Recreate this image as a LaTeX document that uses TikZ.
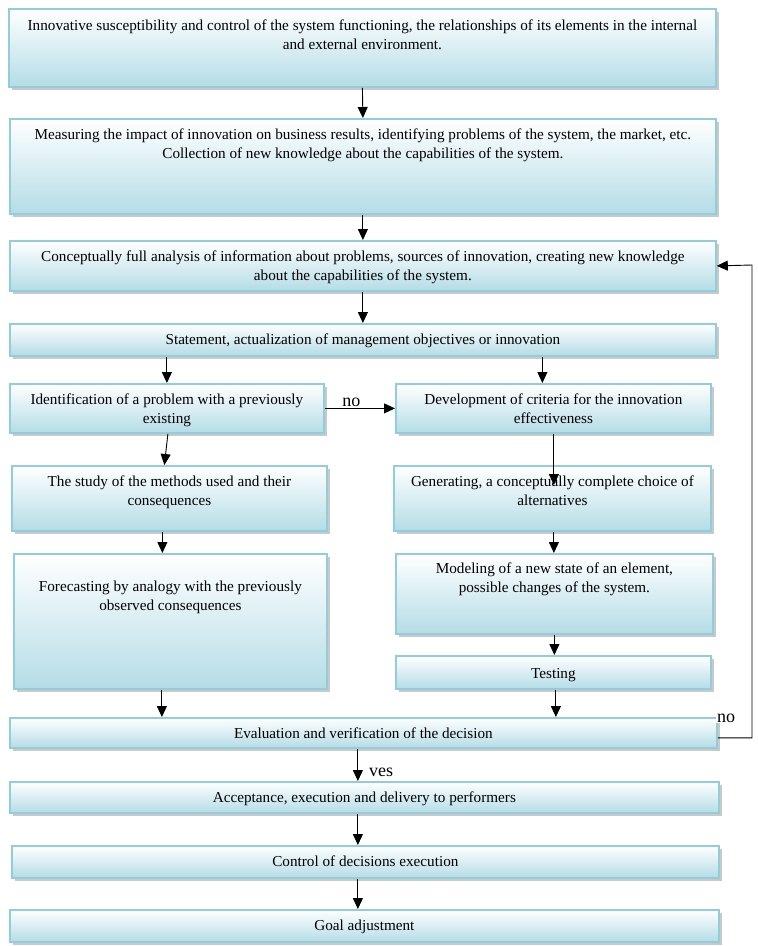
\documentclass[tikz,border=0pt]{standalone}
\usepackage{fontspec}
\setmainfont{Liberation Serif}
\usetikzlibrary{arrows.meta,shadows,calc}
\definecolor{fillc}{RGB}{180,220,230}
\definecolor{bordc}{RGB}{146,205,220}
\tikzset{
  box/.style={draw=bordc, line width=1.8pt, top color=white, bottom color=fillc,
    font=\fontsize{15.2}{19}\selectfont,
    drop shadow={shadow xshift=3.5pt, shadow yshift=-3.5pt, opacity=0.3, fill=black!70}},
  arr/.style={-{Triangle[length=11pt,width=10pt]}, line width=0.9pt, black},
  lbl/.style={font=\fontsize{18}{20}\selectfont, inner sep=1pt}
}
% name, x1, y1, x2, y2, first-line centre y, text
\newcommand\bx[7]{\node[box, anchor=north west, inner sep=0pt] (#1) at (#2pt,-#3pt)
  {\parbox[b][\dimexpr #5pt-#3pt\relax][t]{\dimexpr #4pt-#2pt\relax}{\centering
   \vspace*{\dimexpr #6pt+5pt-#3pt-\ht\strutbox\relax}\strut #7\par}};}
\begin{document}
\begin{tikzpicture}
\useasboundingbox (0,0) rectangle (758pt,-946pt);
\bx{b1}{8}{8}{715}{86}{25}{Innovative susceptibility and control of the system functioning, the relationships of its elements in the internal\\ and external environment.}
\bx{b2}{9}{118}{715}{213}{134}{Measuring the impact of innovation on business results, identifying problems of the system, the market, etc.\\ Collection of new knowledge about the capabilities of the system.}
\bx{b3}{9}{240}{715}{290}{256}{Conceptually full analysis of information about problems, sources of innovation, creating new knowledge\\ about the capabilities of the system.}
\bx{b4}{9}{323}{715}{355}{339}{Statement, actualization of management objectives or innovation}
\bx{b5}{9}{383}{323}{432}{399}{Identification of a problem with a previously\\ existing}
\bx{b6}{395}{383}{710}{432}{399}{Development of criteria for the innovation\\ effectiveness}
\bx{b7}{11}{465}{326}{530}{481}{The study of the methods used and their\\ consequences}
\bx{b8}{393}{465}{710}{530}{481}{Generating, a conceptually complete choice of\\ alternatives}
\bx{b9}{13}{553}{326}{688}{586}{Forecasting by analogy with the previously\\ observed consequences}
\bx{b10}{395}{553}{712}{633}{568}{Modeling of a new state of an element,\\ possible changes of the system.}
\bx{b11}{395}{655}{710}{688}{673}{Testing}
\bx{b12}{9}{717}{716}{747}{733}{Evaluation and verification of the decision}
\bx{b13}{9}{781}{718}{812}{797}{Acceptance, execution and delivery to performers}
\bx{b14}{11}{845}{718}{877}{861}{Control of decisions execution}
\bx{b15}{9}{909}{718}{941}{925}{Goal adjustment}

\draw[arr] (b1.south) -- (b2.north);
\draw[arr] (b2.south) -- (b3.north);
\draw[arr] (b3.south) -- (b4.north);
\draw[arr] (b4.south -| b5.north) -- (b5.north);
\coordinate (t6) at ([xshift=-11pt]b6.north);
\draw[arr] (b4.south -| t6) -- (t6);
\draw[arr] (b5.east) -- node[lbl, above, pos=0.38] (no1) {no} (b6.west);
\draw[arr] ([xshift=1pt]b5.south) -- ([xshift=-5pt]b7.north);
\coordinate (e8) at ($(b8.north)+(1.5pt,-20pt)$);
\draw[arr] (b6.south -| e8) -- (e8);
\coordinate (t9) at ([xshift=-8pt]b9.north);
\draw[arr] (b7.south -| t9) -- (t9);
\coordinate (t10) at ([xshift=-0.5pt]b10.north);
\draw[arr] (b8.south -| t10) -- (t10);
\draw[arr] (b10.south) -- (b10.south |- b11.north);
\coordinate (s9) at ([xshift=-8.5pt]b9.south);
\draw[arr] (s9) -- (s9 |- b12.north);
\coordinate (s11) at ([xshift=2.5pt]b11.south);
\draw[arr] (s11) -- (s11 |- b12.north);
\coordinate (s12) at ([xshift=-5.5pt]b12.south);
\draw[arr] (s12) -- (s12 |- b13.north);
\node[lbl, anchor=west] (yes) at (368pt,-772pt) {ves};
\coordinate (s13) at (s12 |- b13.south);
\draw[arr] (s13) -- (s13 |- b14.north);
\coordinate (s14) at (s12 |- b14.south);
\draw[arr] (s14) -- (s14 |- b15.north);
\coordinate (fbc) at (752pt,-265pt);
\draw[arr] ([yshift=-5pt]b12.east) -| (fbc) -- (b3.east);
\node[lbl, fill=white, anchor=west] (no2) at (716pt,-718pt) {no};
\end{tikzpicture}
\end{document}
